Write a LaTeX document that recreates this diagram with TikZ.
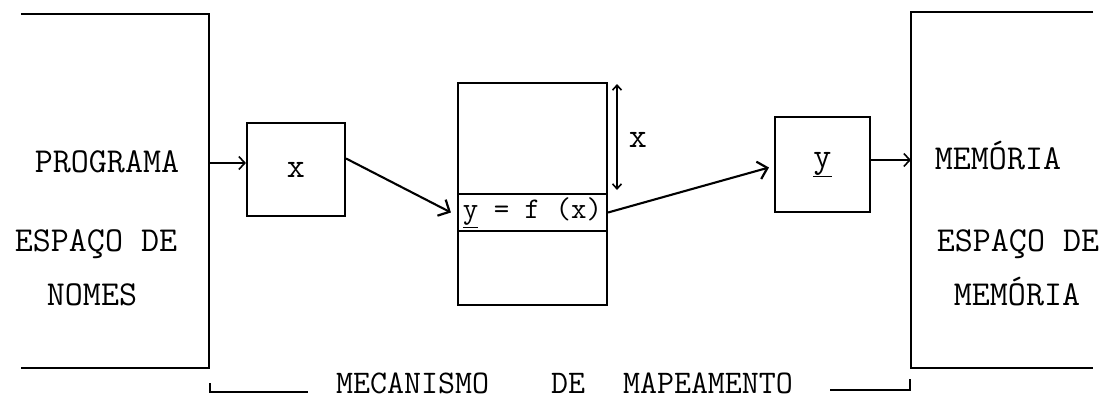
\documentclass[tikz,border=0pt]{standalone}
\usepackage{fontspec}
\usetikzlibrary{arrows.meta}
\begin{document}
\begin{tikzpicture}[x=1pt,y=-1pt, line width=2.1pt,
  lbl/.style={inner sep=0pt, anchor=base, font=\ttfamily\fontsize{35}{35}\selectfont},
  boxn/.style={draw, inner sep=0pt, font=\ttfamily\fontsize{35}{35}\selectfont},
  barb/.style={-{Straight Barb[length=6pt,width=13pt,line width=1.6pt]}},
  bigbarb/.style={-{Straight Barb[length=9pt,width=18pt,line width=2.2pt]}},
  dbl/.style={{Straight Barb[length=5pt,width=9pt,line width=1.6pt]}-{Straight Barb[length=5pt,width=9pt,line width=1.6pt]}}
]
\useasboundingbox (0,0) rectangle (1109,399);
% side spaces
\node[minimum width=186pt, minimum height=352pt, inner sep=0pt] (prog) at (115,191) {};
\node[minimum width=180pt, minimum height=354pt, inner sep=0pt] (mem) at (1002,190) {};
\draw (prog.north west) -- (prog.north east) -- (prog.south east) -- (prog.south west);
\draw (mem.north east) -- (mem.north west) -- (mem.south west) -- (mem.south east);
\node[lbl] (t1) at (107,172) {PROGRAMA};
\node[lbl] (t2) at (96,251) {ESPAÇO DE};
\node[lbl] (t3) at (92,305) {NOMES};
\node[lbl] (t4) at (998,169) {MEMÓRIA};
\node[lbl] (t5) at (1018,251) {ESPAÇO DE};
\node[lbl] (t6) at (1017,305) {MEMÓRIA};
% boxes
\node[boxn, minimum width=98pt, minimum height=93pt] (xb) at (296,169.5) {x};
\node[boxn, minimum width=149pt, minimum height=222pt] (tab) at (532.5,194) {};
\node[draw, inner sep=0pt, minimum width=149pt, minimum height=37pt, font=\ttfamily\fontsize{30}{30}\selectfont] (row) at (532.5,212.5) {\underline{y} = f (x)};
\node[boxn, minimum width=95pt, minimum height=95pt] (yb) at (822.5,164.5) {\underline{y}};
% index arrow
\coordinate (dt) at (617,84);
\coordinate (db) at (617,190);
\draw[dbl] (dt) -- (db);
\node[lbl, anchor=center] (xd) at (638,140) {x};
% connectors
\draw[barb] ([yshift=6.5pt]xb.west -| prog.east) -- ([yshift=6.5pt]xb.west);
\draw[bigbarb] ([yshift=11pt]xb.east) -- ([xshift=-6pt]row.west);
\draw[bigbarb] (row.east) -- ([xshift=-5pt,yshift=-3pt]yb.west);
\draw[barb] ([yshift=4.5pt]yb.east) -- ([yshift=4.5pt]yb.east -| mem.west);
% bracket
\coordinate (bl1) at (210,383);
\coordinate (bl2) at (308,392);
\coordinate (br1) at (830,390);
\coordinate (br2) at (910,379);
\draw (bl1) |- (bl2);
\draw (br1) -| (br2);
\node[anchor=base west, inner sep=0pt, font=\ttfamily\fontsize{33}{33}\selectfont] (mec) at (335,393) {\makebox[215pt][l]{MECANISMO}\makebox[72pt][l]{DE}MAPEAMENTO};
\end{tikzpicture}
\end{document}
